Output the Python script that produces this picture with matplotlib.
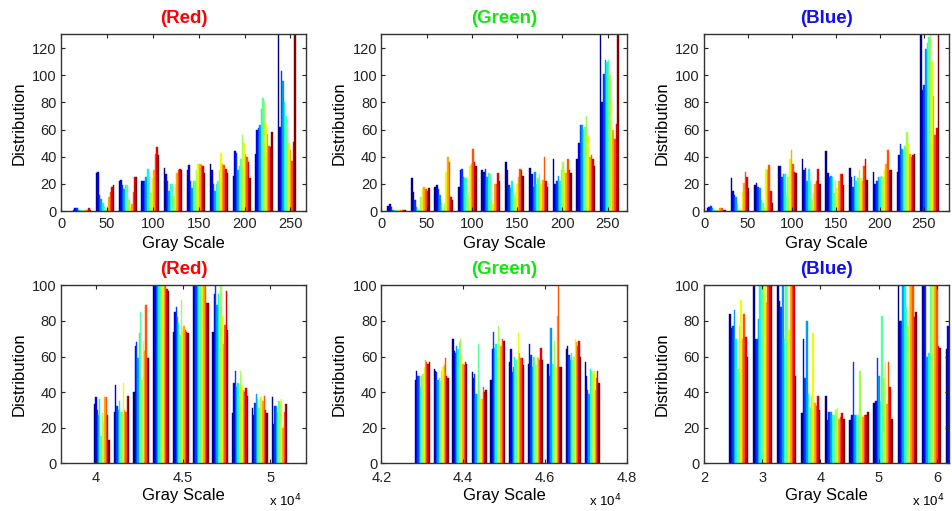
import matplotlib
matplotlib.use("Agg")
import matplotlib.pyplot as plt
import numpy as np
from matplotlib.ticker import FuncFormatter

plt.rcParams["font.family"] = ["Liberation Sans", "DejaVu Sans"]

# ---- top row: histograms of the 8-bit channels (10 bins x 12 series) ----
red_top_centers = [23, 48, 73, 97, 122, 147, 172, 197, 221, 246]
red_top = [
    [1, 2, 2, 1, 1, 1, 0.5, 0.5, 1, 1, 2, 1],
    [28, 29, 12, 9, 6, 3, 1, 4, 10, 14, 18, 19],
    [22, 23, 19, 16, 19, 19, 8, 3, 5, 14, 25, 25],
    [22, 22, 22, 25, 31, 25, 13, 24, 30, 42, 47, 41],
    [32, 27, 22, 15, 20, 20, 11, 20, 28, 30, 31, 30],
    [30, 34, 22, 17, 22, 22, 30, 35, 35, 34, 33, 28],
    [35, 30, 20, 15, 20, 22, 30, 43, 35, 34, 31, 28],
    [26, 44, 43, 30, 33, 38, 56, 50, 42, 40, 36, 24],
    [42, 60, 61, 63, 75, 83, 80, 65, 57, 48, 47, 58],
    [150, 62, 103, 96, 80, 70, 62, 50, 45, 37, 51, 150],
]

green_top_centers = [17, 43, 69, 95, 121, 147, 174, 200, 226, 252]
green_top = [
    [4, 5, 3, 1, 0.5, 0.5, 0.5, 0.5, 0.5, 1, 1, 0.5],
    [24, 14, 8, 3, 1, 1, 10, 17, 18, 16, 15, 17],
    [18, 19, 16, 12, 6, 1, 5, 29, 40, 36, 10, 8],
    [18, 30, 31, 25, 24, 24, 12, 33, 35, 46, 36, 33],
    [30, 29, 31, 25, 28, 27, 8, 5, 20, 20, 28, 22],
    [36, 30, 19, 17, 22, 13, 12, 20, 25, 31, 30, 26],
    [32, 27, 18, 29, 20, 24, 27, 20, 23, 40, 22, 18],
    [38, 20, 22, 26, 22, 30, 36, 30, 28, 38, 30, 28],
    [38, 50, 63, 63, 60, 62, 70, 55, 40, 41, 38, 33],
    [150, 80, 101, 111, 110, 111, 100, 80, 60, 53, 64, 150],
]

blue_top_centers = [14, 41, 68, 95, 122, 149, 176, 203, 230, 257]
blue_top = [
    [2, 3, 4, 2, 1, 0.5, 0.5, 1, 2, 2, 1, 0.5],
    [24, 15, 12, 10, 5, 1, 1, 14, 21, 29, 25, 17],
    [19, 21, 18, 17, 8, 6, 2, 31, 30, 34, 15, 6],
    [33, 33, 25, 27, 27, 12, 25, 38, 45, 35, 29, 28],
    [38, 30, 32, 22, 31, 22, 8, 13, 20, 22, 31, 20],
    [44, 28, 25, 26, 25, 13, 22, 17, 22, 27, 27, 19],
    [32, 25, 18, 26, 22, 24, 30, 24, 22, 33, 38, 23],
    [29, 20, 22, 25, 25, 26, 25, 30, 35, 45, 30, 30],
    [29, 41, 49, 46, 45, 48, 58, 50, 42, 40, 41, 42],
    [150, 89, 93, 119, 124, 128, 150, 110, 85, 56, 61, 150],
]

# ---- bottom row: histograms of the 16-bit channels ----
red_bot_centers = [40340, 41470, 42610, 43740, 44870, 46010, 47140, 48270, 49400, 50540]
red_bot = [
    [33, 37, 30, 27, 36, 15, 28, 23, 37, 37, 27, 13],
    [29, 44, 32, 30, 35, 29, 29, 45, 30, 29, 38, 38],
    [40, 66, 68, 59, 73, 85, 47, 69, 63, 89, 59, 59],
    [110, 110, 110, 110, 110, 110, 110, 110, 110, 110, 98, 97],
    [74, 85, 88, 82, 79, 72, 92, 75, 77, 75, 74, 73],
    [110, 110, 110, 110, 110, 110, 110, 110, 110, 110, 90, 90],
    [74, 95, 100, 89, 95, 65, 100, 83, 67, 78, 97, 75],
    [28, 45, 52, 43, 45, 38, 52, 44, 41, 40, 42, 38],
    [31, 27, 34, 39, 36, 31, 37, 37, 35, 38, 30, 28],
    [37, 22, 32, 32, 29, 35, 35, 36, 20, 29, 33, 33],
]

green_bot_centers = [43000, 43460, 43920, 44390, 44850, 45310, 45770, 46230, 46700, 47160]
green_bot = [
    [47, 52, 49, 49, 43, 49, 50, 54, 58, 57, 56, 57],
    [53, 52, 51, 47, 48, 46, 52, 54, 55, 59, 49, 48],
    [70, 63, 62, 66, 64, 68, 70, 61, 56, 55, 57, 56],
    [51, 48, 50, 39, 39, 67, 41, 36, 36, 43, 40, 41],
    [47, 64, 74, 65, 67, 60, 77, 67, 66, 70, 69, 69],
    [57, 64, 51, 54, 60, 58, 58, 73, 62, 59, 59, 55],
    [56, 67, 61, 54, 60, 60, 55, 60, 59, 58, 65, 58],
    [56, 56, 49, 76, 56, 56, 69, 54, 83, 110, 54, 54],
    [64, 66, 61, 58, 62, 58, 60, 70, 68, 66, 69, 60],
    [57, 49, 41, 39, 53, 52, 51, 52, 41, 48, 52, 45],
]

blue_bot_centers = [25940, 30080, 34210, 38350, 42490, 46630, 50760, 54900, 59040, 63170]
blue_bot = [
    [84, 76, 77, 86, 70, 53, 77, 92, 70, 84, 71, 60],
    [110, 70, 70, 81, 110, 110, 110, 110, 90, 110, 110, 110],
    [110, 91, 88, 110, 70, 110, 110, 75, 110, 110, 110, 49],
    [28, 70, 48, 80, 39, 31, 38, 73, 34, 32, 38, 30],
    [38, 24, 29, 29, 27, 27, 30, 31, 25, 26, 28, 25],
    [24, 27, 57, 27, 27, 27, 52, 27, 26, 27, 27, 29],
    [34, 35, 59, 49, 35, 83, 48, 57, 33, 57, 43, 25],
    [110, 80, 80, 110, 110, 88, 77, 110, 110, 110, 82, 85],
    [110, 110, 110, 60, 62, 110, 110, 110, 110, 110, 66, 65],
    [64, 77, 60, 60, 70, 80, 90, 90, 80, 70, 60, 60],
]

titles = ["(Red)", "(Green)", "(Blue)"]
title_colors = ["#ff0000", "#11e611", "#1010ee"]


def grouped_hist(ax, centers, values):
    n = len(values[0])
    colors = plt.cm.jet(np.linspace(0, 1, n))
    bw = centers[1] - centers[0]
    gw = 0.8 * bw
    w = gw / n
    for c, row in zip(centers, values):
        xs = [c - gw / 2 + (j + 0.5) * w for j in range(n)]
        ax.bar(xs, row, width=w, color=colors, edgecolor=colors, linewidth=0.3)


def style(ax, xpad=4):
    ax.tick_params(direction="in", length=3, top=True, right=True,
                   labelsize=10.5, colors="#222222")
    ax.tick_params(axis="x", pad=xpad)
    ax.tick_params(axis="y", pad=3)
    for s in ax.spines.values():
        s.set_color("#333333")
        s.set_linewidth(1.0)
    ax.set_ylabel("Distribution", fontsize=12, labelpad=4)
    ax.set_xlabel("Gray Scale", fontsize=12, labelpad=4 - (xpad - 4))


fig = plt.figure(figsize=(9.52, 5.11), dpi=100)
lefts = [0.0641, 0.4007, 0.7395]
w_ax = 0.2574

top_data = [(red_top_centers, red_top, 267),
            (green_top_centers, green_top, 271),
            (blue_top_centers, blue_top, 279)]
for i, (cent, vals, xmax) in enumerate(top_data):
    ax = fig.add_axes([lefts[i], 0.587, w_ax, 0.3455])
    grouped_hist(ax, cent, vals)
    ax.set_xlim(0, xmax)
    ax.set_ylim(0, 130)
    ax.set_xticks([0, 50, 100, 150, 200, 250])
    ax.set_yticks([0, 20, 40, 60, 80, 100, 120])
    style(ax)
    ax.set_title(titles[i], color=title_colors[i], fontsize=13.5,
                 fontweight="bold", pad=8)

bot_data = [(red_bot_centers, red_bot, (38000, 52060), [40000, 45000, 50000]),
            (green_bot_centers, green_bot, (42000, 48000), [42000, 44000, 46000, 48000]),
            (blue_bot_centers, blue_bot, (20000, 62100), [20000, 30000, 40000, 50000, 60000])]
fmt = FuncFormatter(lambda v, p: f"{v / 1e4:g}")
for i, (cent, vals, xl, xt) in enumerate(bot_data):
    ax = fig.add_axes([lefts[i], 0.0939, w_ax, 0.3474])
    grouped_hist(ax, cent, vals)
    ax.set_xlim(*xl)
    ax.set_ylim(0, 100)
    ax.set_xticks(xt)
    ax.xaxis.set_major_formatter(fmt)
    ax.set_yticks([0, 20, 40, 60, 80, 100])
    style(ax, xpad=6)
    ax.set_title(titles[i], color=title_colors[i], fontsize=13.5,
                 fontweight="bold", pad=8)
    ax.text(0.98, -0.215, r"x 10$^{4}$", transform=ax.transAxes,
            ha="right", va="center", fontsize=9.5)

fig.savefig("out.png", dpi=100)
